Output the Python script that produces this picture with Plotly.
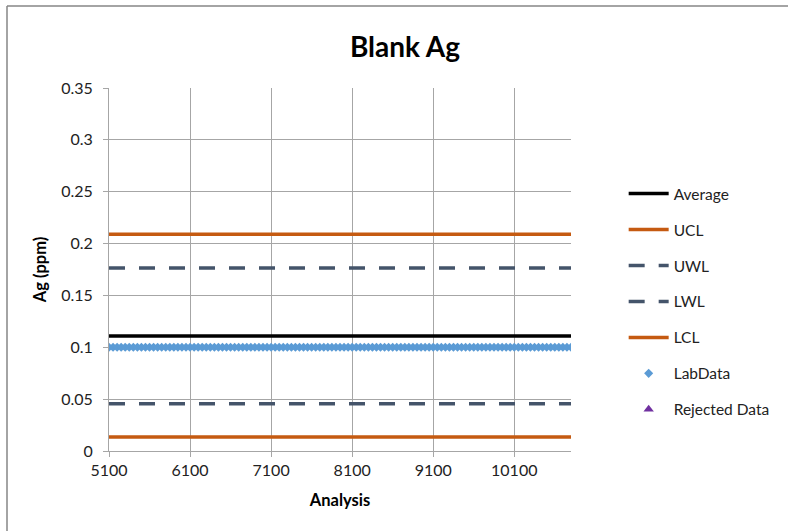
import plotly.graph_objects as go

# Data
x_range = [5100, 10800]
average = 0.111
ucl = 0.209
uwl = 0.1765
lwl = 0.0455
lcl = 0.0135
lab_x = list(range(5100, 10801, 50))
lab_y = [0.1] * len(lab_x)
x_ticks = [5100, 6100, 7100, 8100, 9100, 10100]
y_ticks = [0, 0.05, 0.1, 0.15, 0.2, 0.25, 0.3, 0.35]
y_tick_text = ["0", "0.05", "0.1", "0.15", "0.2", "0.25", "0.3", "0.35"]

FONT = "Lato, 'Open Sans', sans-serif"
ORANGE = "#c55a11"
SLATE = "#44546a"
BLUE = "#5b9bd5"

fig = go.Figure()

def hline(name, val, color, dash=None):
    fig.add_trace(go.Scatter(
        x=x_range, y=[val, val], mode="lines", name=name,
        line=dict(color=color, width=3.5, dash=dash or "solid"),
        legendgroup=name, hoverinfo="skip"))

hline("Average", average, "black")
hline("UCL", ucl, ORANGE)
hline("UWL", uwl, SLATE, "16px,14px")
hline("LWL", lwl, SLATE, "16px,14px")
hline("LCL", lcl, ORANGE)

fig.add_trace(go.Scatter(
    x=lab_x, y=lab_y, mode="markers", name="LabData", legendgroup="LabData",
    marker=dict(symbol="diamond", size=7, color=BLUE)))
fig.add_trace(go.Scatter(
    x=[None], y=[None], mode="markers", name="Rejected Data", legendgroup="Rejected",
    marker=dict(symbol="triangle-up", size=9, color="#7030a0")))

fig.update_layout(
    width=788, height=531,
    margin=dict(l=109, r=217, t=88, b=80),
    paper_bgcolor="white", plot_bgcolor="white",
    font=dict(family=FONT, size=16, color="#222"),
    title=dict(text="<b>Blank Ag</b>", x=405 / 788, xanchor="center",
               y=1 - 47 / 531, yanchor="middle",
               font=dict(family=FONT, size=28, color="black")),
    showlegend=True,
    legend=dict(x=1.114, xanchor="left", y=(451 - 177) / 363, yanchor="top",
                font=dict(family=FONT, size=15.5, color="#222"),
                tracegroupgap=12.8, bgcolor="rgba(0,0,0,0)", itemwidth=40),
    xaxis=dict(range=[5100, 10800], tickvals=x_ticks, ticktext=[str(v) for v in x_ticks],
               showgrid=True, gridcolor="#a6a6a6", gridwidth=1,
               showline=True, linecolor="#a6a6a6", linewidth=1,
               ticks="outside", ticklen=5, tickcolor="#a6a6a6",
               zeroline=False, tickfont=dict(size=16),
               title=dict(text="<b>Analysis</b>", font=dict(family=FONT, size=16.5, color="black"),
                          standoff=16)),
    yaxis=dict(range=[0, 0.35], tickvals=y_ticks, ticktext=y_tick_text,
               showgrid=True, gridcolor="#a6a6a6", gridwidth=1,
               showline=True, linecolor="#a6a6a6", linewidth=1,
               ticks="outside", ticklen=5, tickcolor="#a6a6a6",
               zeroline=False, tickfont=dict(size=16), ticklabelstandoff=7,
               title=dict(text="<b>Ag (ppm)</b>", font=dict(family=FONT, size=16.5, color="black"),
                          standoff=10)),
)

# outer chart border (only top & left edges are visible in the reference)
bx0, bx1 = (7 - 109) / 462, (788 - 109) / 462
by0, by1 = (451 - 531) / 363, (451 - 6) / 363
fig.add_shape(type="line", xref="paper", yref="paper", x0=bx0, x1=bx1, y0=by1, y1=by1,
              line=dict(color="#868686", width=1.5), layer="below")
fig.add_shape(type="line", xref="paper", yref="paper", x0=bx0, x1=bx0, y0=by0, y1=by1,
              line=dict(color="#868686", width=1.5), layer="below")

fig.write_html("out.html", config={"displayModeBar": False},
               post_script="document.body.style.margin='0px';document.body.style.overflow='hidden';")
